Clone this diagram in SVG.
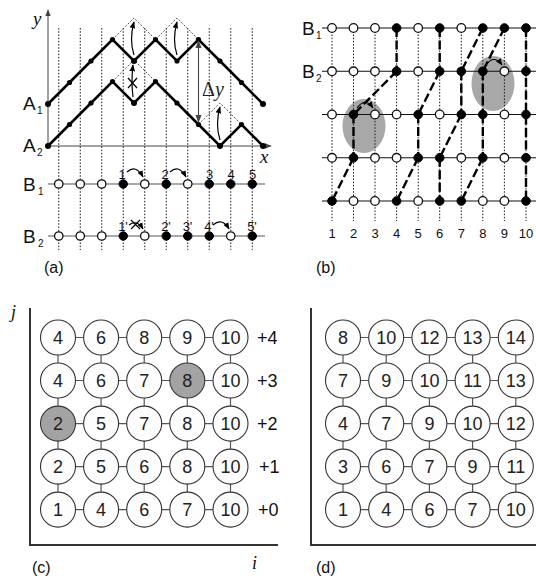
<svg xmlns="http://www.w3.org/2000/svg" width="536" height="579" viewBox="0 0 536 579">
<defs>
<style>
.t{font-family:"Liberation Sans",Arial,sans-serif;fill:#111}
.it{font-family:"Liberation Serif","Times New Roman",serif;font-style:italic;fill:#111}
.dot{stroke:#222;stroke-width:1;stroke-dasharray:1.6 1.6;fill:none}
.dia{stroke:#333;stroke-width:0.8;stroke-dasharray:2 1.6;fill:none}
.zig{stroke:#000;stroke-width:2.6;fill:none;stroke-linejoin:miter}
.ax{stroke:#444;stroke-width:1;fill:none}
.row{stroke:#555;stroke-width:1.2}
.brow{stroke:#111;stroke-width:1.1}
.op{fill:#fff;stroke:#111;stroke-width:1.3}
.fi{fill:#000;stroke:#000;stroke-width:1}
.wl{stroke:#000;stroke-width:2.4;stroke-dasharray:9 3.5;fill:none}
.arr{stroke:#000;stroke-width:1.2;fill:none}
.ell{fill:#a8a8a8}
.nd{fill:#fdfdfd;stroke:#333;stroke-width:1.1}
.gr{fill:#a3a3a3;stroke:#333;stroke-width:1.1}
.lk{stroke:#555;stroke-width:1.2}
.axc{stroke:#333;stroke-width:2;fill:none}
.num{font-family:"Liberation Sans",Arial,sans-serif;font-size:18px;fill:#222;text-anchor:middle}
</style>
<marker id="ah" viewBox="0 0 10 10" refX="9" refY="5" markerWidth="7" markerHeight="7" markerUnits="userSpaceOnUse" orient="auto">
<path d="M0,1 L10,5 L0,9 z" fill="#000"/>
</marker>
<marker id="ahg" viewBox="0 0 10 10" refX="9" refY="5" markerWidth="7" markerHeight="7" markerUnits="userSpaceOnUse" orient="auto">
<path d="M0,1 L10,5 L0,9 z" fill="#444"/>
</marker>
</defs>

<!-- ================= Panel (a) ================= -->
<g id="panel-a">
<g id="a-dotted">
<line class="dot" x1="58.75" y1="28" x2="58.75" y2="250"/>
<line class="dot" x1="80.25" y1="28" x2="80.25" y2="250"/>
<line class="dot" x1="101.75" y1="28" x2="101.75" y2="250"/>
<line class="dot" x1="123.25" y1="28" x2="123.25" y2="250"/>
<line class="dot" x1="144.75" y1="28" x2="144.75" y2="250"/>
<line class="dot" x1="166.25" y1="28" x2="166.25" y2="250"/>
<line class="dot" x1="187.75" y1="28" x2="187.75" y2="250"/>
<line class="dot" x1="209.25" y1="28" x2="209.25" y2="250"/>
<line class="dot" x1="230.75" y1="28" x2="230.75" y2="250"/>
<line class="dot" x1="252.25" y1="28" x2="252.25" y2="250"/>
</g>
<g id="a-axes">
<line class="ax" x1="48" y1="146" x2="48" y2="10" marker-end="url(#ahg)"/>
<line class="ax" x1="48" y1="146" x2="271" y2="146" marker-end="url(#ahg)"/>
<text class="it" x="33" y="25" font-size="19">y</text>
<text class="it" x="260" y="163" font-size="19">x</text>
</g>
<g id="a-diamonds">
<polyline class="dia" points="112.5,39.5 134,18 155.5,39.5 177,18 198.5,39.5"/>
<polyline class="dia" points="112.5,81.5 134,60 155.5,81.5"/>
<polyline class="dia" points="198.5,124.5 220,103 241.5,124.5"/>
</g>
<g id="a-A1">
<polyline class="zig" points="48,104 69.5,82.5 91,61 112.5,39.5 134,61 155.5,39.5 177,61 198.5,39.5 220,61 241.5,82.5 263,104"/>
<g fill="#000">
<circle cx="48" cy="104" r="3"/><circle cx="69.5" cy="82.5" r="2.6"/><circle cx="91" cy="61" r="2.6"/><circle cx="112.5" cy="39.5" r="2.6"/><circle cx="134" cy="61" r="3"/><circle cx="155.5" cy="39.5" r="2.6"/><circle cx="177" cy="61" r="2.6"/><circle cx="198.5" cy="39.5" r="2.6"/><circle cx="220" cy="61" r="2.6"/><circle cx="241.5" cy="82.5" r="2.6"/><circle cx="263" cy="104" r="3"/>
</g>
<text class="t" x="23" y="110" font-size="19">A</text><text class="t" x="37" y="114" font-size="10">1</text>
</g>
<g id="a-A2">
<polyline class="zig" points="48,146 69.5,124.5 91,103 112.5,81.5 134,103 155.5,81.5 177,103 198.5,124.5 220,146 241.5,124.5 263,146"/>
<g fill="#000">
<circle cx="48" cy="146" r="3"/><circle cx="69.5" cy="124.5" r="2.6"/><circle cx="91" cy="103" r="2.6"/><circle cx="112.5" cy="81.5" r="2.6"/><circle cx="134" cy="103" r="3"/><circle cx="155.5" cy="81.5" r="2.6"/><circle cx="177" cy="103" r="2.6"/><circle cx="198.5" cy="124.5" r="2.6"/><circle cx="220" cy="146" r="3"/><circle cx="241.5" cy="124.5" r="2.6"/><circle cx="263" cy="146" r="3"/>
</g>
<text class="t" x="23" y="152" font-size="19">A</text><text class="t" x="37" y="156" font-size="10">2</text>
</g>
<g id="a-moves">
<path class="arr" d="M134,55 Q129,40 134,22" marker-end="url(#ah)"/>
<path class="arr" d="M177,55 Q172,40 177,22" marker-end="url(#ah)"/>
<path class="arr" d="M220,140 Q215,125 220,107" marker-end="url(#ah)"/>
<path class="arr" d="M133,97 Q131,82 133,65" marker-end="url(#ah)"/>
<path class="arr" d="M128,78 L137,88 M137,78 L128,88"/>
</g>
<g id="a-dy">
<line stroke="#444" stroke-width="1.1" x1="198.5" y1="48" x2="198.5" y2="116"/>
<path d="M198.5,40 L195.5,48 L201.5,48 z" fill="#444"/>
<path d="M198.5,123 L195.5,115 L201.5,115 z" fill="#444"/>
<text x="202" y="96" font-size="20" font-family="'Liberation Serif','Times New Roman',serif" fill="#222">Δ<tspan font-style="italic">y</tspan></text>
</g>
<g id="a-B1">
<line class="row" x1="48" y1="184" x2="265" y2="184"/>
<circle class="op" cx="58.75" cy="184" r="4.2"/><circle class="op" cx="80.25" cy="184" r="4.2"/><circle class="op" cx="101.75" cy="184" r="4.2"/><circle class="fi" cx="123.25" cy="184" r="4.2"/><circle class="op" cx="144.75" cy="184" r="4.2"/><circle class="fi" cx="166.25" cy="184" r="4.2"/><circle class="op" cx="187.75" cy="184" r="4.2"/><circle class="fi" cx="209.25" cy="184" r="4.2"/><circle class="fi" cx="230.75" cy="184" r="4.2"/><circle class="fi" cx="252.25" cy="184" r="4.2"/>
<text class="t" x="23" y="191" font-size="19">B</text><text class="t" x="38" y="195" font-size="10">1</text>
<g class="t" font-size="13" text-anchor="middle">
<text x="122" y="179">1</text><text x="165" y="179">2</text><text x="209.5" y="179">3</text><text x="231" y="179">4</text><text x="252.5" y="179">5</text>
</g>
<path class="arr" d="M127,172 Q136,164 143,177" marker-end="url(#ah)"/>
<path class="arr" d="M170,172 Q179,164 186,177" marker-end="url(#ah)"/>
</g>
<g id="a-B2">
<line class="row" x1="48" y1="236" x2="265" y2="236"/>
<circle class="op" cx="58.75" cy="236" r="4.2"/><circle class="op" cx="80.25" cy="236" r="4.2"/><circle class="op" cx="101.75" cy="236" r="4.2"/><circle class="fi" cx="123.25" cy="236" r="4.2"/><circle class="op" cx="144.75" cy="236" r="4.2"/><circle class="fi" cx="166.25" cy="236" r="4.2"/><circle class="fi" cx="187.75" cy="236" r="4.2"/><circle class="fi" cx="209.25" cy="236" r="4.2"/><circle class="op" cx="230.75" cy="236" r="4.2"/><circle class="fi" cx="252.25" cy="236" r="4.2"/>
<text class="t" x="23" y="243" font-size="19">B</text><text class="t" x="38" y="247" font-size="10">2</text>
<g class="t" font-size="13" text-anchor="middle">
<text x="123" y="231">1'</text><text x="166" y="231">2'</text><text x="187.5" y="231">3'</text><text x="209" y="231">4'</text><text x="252" y="231">5'</text>
</g>
<path class="arr" d="M129,225 Q137,219 143,229" marker-end="url(#ah)"/>
<path class="arr" d="M131,220 L140,229 M140,220 L131,229"/>
<path class="arr" d="M213,225 Q222,217 229,229" marker-end="url(#ah)"/>
</g>
<text class="t" x="44" y="273" font-size="16">(a)</text>
</g>

<!-- ================= Panel (b) ================= -->
<g id="panel-b">
<g id="b-ellipses">
<ellipse class="ell" cx="364" cy="126" rx="21.5" ry="27"/>
<ellipse class="ell" cx="493" cy="83.5" rx="21.5" ry="27.5"/>
</g>
<g id="b-dotted">
<line class="dot" x1="332" y1="28" x2="332" y2="221"/>
<line class="dot" x1="353.5" y1="28" x2="353.5" y2="221"/>
<line class="dot" x1="375" y1="28" x2="375" y2="221"/>
<line class="dot" x1="396.6" y1="28" x2="396.6" y2="221"/>
<line class="dot" x1="418.2" y1="28" x2="418.2" y2="221"/>
<line class="dot" x1="439.7" y1="28" x2="439.7" y2="221"/>
<line class="dot" x1="461.3" y1="28" x2="461.3" y2="221"/>
<line class="dot" x1="482.8" y1="28" x2="482.8" y2="221"/>
<line class="dot" x1="504.4" y1="28" x2="504.4" y2="221"/>
<line class="dot" x1="526" y1="28" x2="526" y2="221"/>
</g>
<g id="b-rows">
<line class="brow" x1="322" y1="28" x2="536" y2="28"/>
<line class="brow" x1="322" y1="71.3" x2="536" y2="71.3"/>
<line class="brow" x1="322" y1="114.5" x2="536" y2="114.5"/>
<line class="brow" x1="322" y1="157.8" x2="536" y2="157.8"/>
<line class="brow" x1="322" y1="201" x2="536" y2="201"/>
</g>
<g id="b-worldlines">
<line class="wl" x1="396.6" y1="28" x2="396.6" y2="71.3"/>
<line class="wl" x1="439.7" y1="28" x2="439.7" y2="71.3"/>
<line class="wl" x1="482.8" y1="28" x2="461.3" y2="71.3"/>
<line class="wl" x1="504.4" y1="28" x2="482.8" y2="71.3"/>
<line class="wl" x1="526" y1="28" x2="526" y2="201"/>
<line class="wl" x1="396.6" y1="71.3" x2="353.5" y2="114.5"/>
<line class="wl" x1="439.7" y1="71.3" x2="418.2" y2="114.5"/>
<line class="wl" x1="461.3" y1="71.3" x2="461.3" y2="114.5"/>
<line class="wl" x1="482.8" y1="71.3" x2="482.8" y2="114.5"/>
<line class="wl" x1="353.5" y1="114.5" x2="353.5" y2="157.8"/>
<line class="wl" x1="418.2" y1="114.5" x2="418.2" y2="157.8"/>
<line class="wl" x1="461.3" y1="114.5" x2="439.7" y2="157.8"/>
<line class="wl" x1="482.8" y1="114.5" x2="482.8" y2="157.8"/>
<line class="wl" x1="353.5" y1="157.8" x2="332" y2="201"/>
<line class="wl" x1="418.2" y1="157.8" x2="396.6" y2="201"/>
<line class="wl" x1="439.7" y1="157.8" x2="439.7" y2="201"/>
<line class="wl" x1="482.8" y1="157.8" x2="461.3" y2="201"/>
</g>
<g id="b-sites">
<circle class="op" cx="332" cy="28" r="4.3"/><circle class="op" cx="353.5" cy="28" r="4.3"/><circle class="op" cx="375" cy="28" r="4.3"/><circle class="fi" cx="396.6" cy="28" r="4.3"/><circle class="op" cx="418.2" cy="28" r="4.3"/><circle class="fi" cx="439.7" cy="28" r="4.3"/><circle class="op" cx="461.3" cy="28" r="4.3"/><circle class="fi" cx="482.8" cy="28" r="4.3"/><circle class="fi" cx="504.4" cy="28" r="4.3"/><circle class="fi" cx="526" cy="28" r="4.3"/>
<circle class="op" cx="332" cy="71.3" r="4.3"/><circle class="op" cx="353.5" cy="71.3" r="4.3"/><circle class="op" cx="375" cy="71.3" r="4.3"/><circle class="fi" cx="396.6" cy="71.3" r="4.3"/><circle class="op" cx="418.2" cy="71.3" r="4.3"/><circle class="fi" cx="439.7" cy="71.3" r="4.3"/><circle class="fi" cx="461.3" cy="71.3" r="4.3"/><circle class="fi" cx="482.8" cy="71.3" r="4.3"/><circle class="op" cx="504.4" cy="71.3" r="4.3"/><circle class="fi" cx="526" cy="71.3" r="4.3"/>
<circle class="op" cx="332" cy="114.5" r="4.3"/><circle class="fi" cx="353.5" cy="114.5" r="4.3"/><circle class="op" cx="375" cy="114.5" r="4.3"/><circle class="op" cx="396.6" cy="114.5" r="4.3"/><circle class="fi" cx="418.2" cy="114.5" r="4.3"/><circle class="op" cx="439.7" cy="114.5" r="4.3"/><circle class="fi" cx="461.3" cy="114.5" r="4.3"/><circle class="fi" cx="482.8" cy="114.5" r="4.3"/><circle class="op" cx="504.4" cy="114.5" r="4.3"/><circle class="fi" cx="526" cy="114.5" r="4.3"/>
<circle class="op" cx="332" cy="157.8" r="4.3"/><circle class="fi" cx="353.5" cy="157.8" r="4.3"/><circle class="op" cx="375" cy="157.8" r="4.3"/><circle class="op" cx="396.6" cy="157.8" r="4.3"/><circle class="fi" cx="418.2" cy="157.8" r="4.3"/><circle class="fi" cx="439.7" cy="157.8" r="4.3"/><circle class="op" cx="461.3" cy="157.8" r="4.3"/><circle class="fi" cx="482.8" cy="157.8" r="4.3"/><circle class="op" cx="504.4" cy="157.8" r="4.3"/><circle class="fi" cx="526" cy="157.8" r="4.3"/>
<circle class="fi" cx="332" cy="201" r="4.3"/><circle class="op" cx="353.5" cy="201" r="4.3"/><circle class="op" cx="375" cy="201" r="4.3"/><circle class="fi" cx="396.6" cy="201" r="4.3"/><circle class="op" cx="418.2" cy="201" r="4.3"/><circle class="fi" cx="439.7" cy="201" r="4.3"/><circle class="fi" cx="461.3" cy="201" r="4.3"/><circle class="op" cx="482.8" cy="201" r="4.3"/><circle class="op" cx="504.4" cy="201" r="4.3"/><circle class="fi" cx="526" cy="201" r="4.3"/>
</g>
<g id="b-moves">
<path class="arr" d="M357,108 Q365,97 373,108" marker-end="url(#ah)"/>
<path class="arr" d="M486,65 Q494,54 502,65" marker-end="url(#ah)"/>
</g>
<text class="t" x="302" y="35" font-size="19">B</text><text class="t" x="316" y="39" font-size="10">1</text>
<text class="t" x="302" y="78" font-size="19">B</text><text class="t" x="316" y="82" font-size="10">2</text>
<g class="t" font-size="13" text-anchor="middle">
<text x="332" y="238">1</text><text x="353.5" y="238">2</text><text x="375" y="238">3</text><text x="396.6" y="238">4</text><text x="418.2" y="238">5</text><text x="439.7" y="238">6</text><text x="461.3" y="238">7</text><text x="482.8" y="238">8</text><text x="504.4" y="238">9</text><text x="526" y="238">10</text>
</g>
<text class="t" x="316" y="273" font-size="16">(b)</text>
</g>

<!-- ================= Panel (c) ================= -->
<g id="panel-c">
<polyline class="axc" points="30,308 30,545 278,545"/>
<text class="it" x="11" y="318" font-size="18">j</text>
<text class="it" x="252" y="569" font-size="18">i</text>
<g id="c-links">
<line class="lk" x1="58" y1="337.5" x2="58" y2="509.6"/>
<line class="lk" x1="101.1" y1="337.5" x2="101.1" y2="509.6"/>
<line class="lk" x1="144.2" y1="337.5" x2="144.2" y2="509.6"/>
<line class="lk" x1="187.3" y1="337.5" x2="187.3" y2="509.6"/>
<line class="lk" x1="230.5" y1="337.5" x2="230.5" y2="509.6"/>
<line class="lk" x1="58" y1="337.5" x2="230.5" y2="337.5"/>
<line class="lk" x1="58" y1="380.5" x2="230.5" y2="380.5"/>
<line class="lk" x1="58" y1="423.6" x2="230.5" y2="423.6"/>
<line class="lk" x1="58" y1="466.6" x2="230.5" y2="466.6"/>
<line class="lk" x1="58" y1="509.6" x2="230.5" y2="509.6"/>
</g>
<g id="c-n40"><circle class="nd" cx="58" cy="337.5" r="17.5"/><text class="num" x="58" y="344">4</text></g>
<g id="c-n41"><circle class="nd" cx="101.1" cy="337.5" r="17.5"/><text class="num" x="101.1" y="344">6</text></g>
<g id="c-n42"><circle class="nd" cx="144.2" cy="337.5" r="17.5"/><text class="num" x="144.2" y="344">8</text></g>
<g id="c-n43"><circle class="nd" cx="187.3" cy="337.5" r="17.5"/><text class="num" x="187.3" y="344">9</text></g>
<g id="c-n44"><circle class="nd" cx="230.5" cy="337.5" r="17.5"/><text class="num" x="230.5" y="344">10</text></g>
<g id="c-n30"><circle class="nd" cx="58" cy="380.5" r="17.5"/><text class="num" x="58" y="387">4</text></g>
<g id="c-n31"><circle class="nd" cx="101.1" cy="380.5" r="17.5"/><text class="num" x="101.1" y="387">6</text></g>
<g id="c-n32"><circle class="nd" cx="144.2" cy="380.5" r="17.5"/><text class="num" x="144.2" y="387">7</text></g>
<g id="c-n33"><circle class="gr" cx="187.3" cy="380.5" r="17.5"/><text class="num" x="187.3" y="387">8</text></g>
<g id="c-n34"><circle class="nd" cx="230.5" cy="380.5" r="17.5"/><text class="num" x="230.5" y="387">10</text></g>
<g id="c-n20"><circle class="gr" cx="58" cy="423.6" r="17.5"/><text class="num" x="58" y="430">2</text></g>
<g id="c-n21"><circle class="nd" cx="101.1" cy="423.6" r="17.5"/><text class="num" x="101.1" y="430">5</text></g>
<g id="c-n22"><circle class="nd" cx="144.2" cy="423.6" r="17.5"/><text class="num" x="144.2" y="430">7</text></g>
<g id="c-n23"><circle class="nd" cx="187.3" cy="423.6" r="17.5"/><text class="num" x="187.3" y="430">8</text></g>
<g id="c-n24"><circle class="nd" cx="230.5" cy="423.6" r="17.5"/><text class="num" x="230.5" y="430">10</text></g>
<g id="c-n10"><circle class="nd" cx="58" cy="466.6" r="17.5"/><text class="num" x="58" y="473">2</text></g>
<g id="c-n11"><circle class="nd" cx="101.1" cy="466.6" r="17.5"/><text class="num" x="101.1" y="473">5</text></g>
<g id="c-n12"><circle class="nd" cx="144.2" cy="466.6" r="17.5"/><text class="num" x="144.2" y="473">6</text></g>
<g id="c-n13"><circle class="nd" cx="187.3" cy="466.6" r="17.5"/><text class="num" x="187.3" y="473">8</text></g>
<g id="c-n14"><circle class="nd" cx="230.5" cy="466.6" r="17.5"/><text class="num" x="230.5" y="473">10</text></g>
<g id="c-n00"><circle class="nd" cx="58" cy="509.6" r="17.5"/><text class="num" x="58" y="516">1</text></g>
<g id="c-n01"><circle class="nd" cx="101.1" cy="509.6" r="17.5"/><text class="num" x="101.1" y="516">4</text></g>
<g id="c-n02"><circle class="nd" cx="144.2" cy="509.6" r="17.5"/><text class="num" x="144.2" y="516">6</text></g>
<g id="c-n03"><circle class="nd" cx="187.3" cy="509.6" r="17.5"/><text class="num" x="187.3" y="516">7</text></g>
<g id="c-n04"><circle class="nd" cx="230.5" cy="509.6" r="17.5"/><text class="num" x="230.5" y="516">10</text></g>
<g class="t" font-size="18">
<text x="257" y="344">+4</text><text x="257" y="387">+3</text><text x="257" y="430">+2</text><text x="259" y="473">+1</text><text x="258" y="516">+0</text>
</g>
<text class="t" x="32" y="573" font-size="16">(c)</text>
</g>

<!-- ================= Panel (d) ================= -->
<g id="panel-d">
<polyline class="axc" points="311,308 311,545 536,545"/>
<g id="d-links">
<line class="lk" x1="343" y1="337.5" x2="343" y2="509.6"/>
<line class="lk" x1="386.2" y1="337.5" x2="386.2" y2="509.6"/>
<line class="lk" x1="429.4" y1="337.5" x2="429.4" y2="509.6"/>
<line class="lk" x1="472.6" y1="337.5" x2="472.6" y2="509.6"/>
<line class="lk" x1="515.8" y1="337.5" x2="515.8" y2="509.6"/>
<line class="lk" x1="343" y1="337.5" x2="515.8" y2="337.5"/>
<line class="lk" x1="343" y1="380.5" x2="515.8" y2="380.5"/>
<line class="lk" x1="343" y1="423.6" x2="515.8" y2="423.6"/>
<line class="lk" x1="343" y1="466.6" x2="515.8" y2="466.6"/>
<line class="lk" x1="343" y1="509.6" x2="515.8" y2="509.6"/>
</g>
<g id="d-n40"><circle class="nd" cx="343" cy="337.5" r="17.5"/><text class="num" x="343" y="344">8</text></g>
<g id="d-n41"><circle class="nd" cx="386.2" cy="337.5" r="17.5"/><text class="num" x="386.2" y="344">10</text></g>
<g id="d-n42"><circle class="nd" cx="429.4" cy="337.5" r="17.5"/><text class="num" x="429.4" y="344">12</text></g>
<g id="d-n43"><circle class="nd" cx="472.6" cy="337.5" r="17.5"/><text class="num" x="472.6" y="344">13</text></g>
<g id="d-n44"><circle class="nd" cx="515.8" cy="337.5" r="17.5"/><text class="num" x="515.8" y="344">14</text></g>
<g id="d-n30"><circle class="nd" cx="343" cy="380.5" r="17.5"/><text class="num" x="343" y="387">7</text></g>
<g id="d-n31"><circle class="nd" cx="386.2" cy="380.5" r="17.5"/><text class="num" x="386.2" y="387">9</text></g>
<g id="d-n32"><circle class="nd" cx="429.4" cy="380.5" r="17.5"/><text class="num" x="429.4" y="387">10</text></g>
<g id="d-n33"><circle class="nd" cx="472.6" cy="380.5" r="17.5"/><text class="num" x="472.6" y="387">11</text></g>
<g id="d-n34"><circle class="nd" cx="515.8" cy="380.5" r="17.5"/><text class="num" x="515.8" y="387">13</text></g>
<g id="d-n20"><circle class="nd" cx="343" cy="423.6" r="17.5"/><text class="num" x="343" y="430">4</text></g>
<g id="d-n21"><circle class="nd" cx="386.2" cy="423.6" r="17.5"/><text class="num" x="386.2" y="430">7</text></g>
<g id="d-n22"><circle class="nd" cx="429.4" cy="423.6" r="17.5"/><text class="num" x="429.4" y="430">9</text></g>
<g id="d-n23"><circle class="nd" cx="472.6" cy="423.6" r="17.5"/><text class="num" x="472.6" y="430">10</text></g>
<g id="d-n24"><circle class="nd" cx="515.8" cy="423.6" r="17.5"/><text class="num" x="515.8" y="430">12</text></g>
<g id="d-n10"><circle class="nd" cx="343" cy="466.6" r="17.5"/><text class="num" x="343" y="473">3</text></g>
<g id="d-n11"><circle class="nd" cx="386.2" cy="466.6" r="17.5"/><text class="num" x="386.2" y="473">6</text></g>
<g id="d-n12"><circle class="nd" cx="429.4" cy="466.6" r="17.5"/><text class="num" x="429.4" y="473">7</text></g>
<g id="d-n13"><circle class="nd" cx="472.6" cy="466.6" r="17.5"/><text class="num" x="472.6" y="473">9</text></g>
<g id="d-n14"><circle class="nd" cx="515.8" cy="466.6" r="17.5"/><text class="num" x="515.8" y="473">11</text></g>
<g id="d-n00"><circle class="nd" cx="343" cy="509.6" r="17.5"/><text class="num" x="343" y="516">1</text></g>
<g id="d-n01"><circle class="nd" cx="386.2" cy="509.6" r="17.5"/><text class="num" x="386.2" y="516">4</text></g>
<g id="d-n02"><circle class="nd" cx="429.4" cy="509.6" r="17.5"/><text class="num" x="429.4" y="516">6</text></g>
<g id="d-n03"><circle class="nd" cx="472.6" cy="509.6" r="17.5"/><text class="num" x="472.6" y="516">7</text></g>
<g id="d-n04"><circle class="nd" cx="515.8" cy="509.6" r="17.5"/><text class="num" x="515.8" y="516">10</text></g>
<text class="t" x="316" y="573" font-size="16">(d)</text>
</g>
</svg>
